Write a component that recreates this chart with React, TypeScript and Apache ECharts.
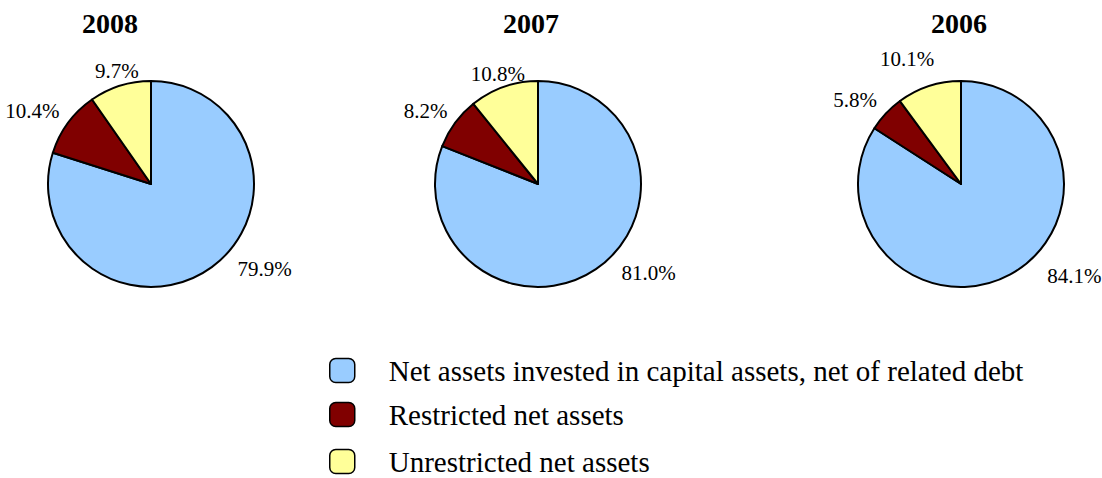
import React, { useEffect, useRef } from "react";
import * as echarts from "echarts";

const categories = [
  "Net assets invested in capital assets, net of related debt",
  "Restricted net assets",
  "Unrestricted net assets",
];
const years = ["2008", "2007", "2006"];
const values2008 = [79.9, 10.4, 9.7];
const values2007 = [81.0, 8.2, 10.8];
const values2006 = [84.1, 5.8, 10.1];
const colors = ["#99CCFF", "#800000", "#FFFF99"];

const FONT = "'Liberation Serif', 'Times New Roman', serif";

export default function App() {
  const ref = useRef<HTMLDivElement>(null);
  useEffect(() => {
    document.body.style.margin = "0";
    const chart = echarts.init(ref.current!, null, { renderer: "svg" });
    const allValues = [values2008, values2007, values2006];
    const centers = [[151, 184], [538, 184], [961, 184]];
    const titleX = [110, 531, 959];
    // label nudges (dx, dy) per pie and slice, relative to ECharts' outside placement
    const nudges = [
      [[16, -5], [3, -7], [26, -7]],
      [[16, -3], [4, -7], [29, -5]],
      [[28, -5], [2, -8], [13, -20]],
    ];
    const series = allValues.map((vals, i) => ({
      type: "pie",
      name: years[i],
      center: centers[i],
      radius: 103,
      startAngle: 90,
      clockwise: true,
      label: {
        show: true,
        position: "outside",
        overflow: "none",
        formatter: (p: any) => p.value.toFixed(1) + "%",
        fontFamily: FONT,
        fontSize: 21,
        color: "#000",
      },
      labelLine: { show: false, length: 8, length2: 0 },
      labelLayout: (p: any) => ({
        dx: nudges[i][p.dataIndex][0],
        dy: nudges[i][p.dataIndex][1],
      }),
      itemStyle: { borderColor: "#000", borderWidth: 2 },
      emphasis: { disabled: true },
      data: vals.map((v, j) => ({
        name: categories[j],
        value: v,
        itemStyle: { color: colors[j] },
      })),
    }));
    const legendTops = [356, 400, 447];
    chart.setOption({
      animation: false,
      color: colors,
      graphic: years.map((y, i) => ({
        type: "text",
        x: titleX[i],
        y: 23,
        style: {
          text: y,
          font: `bold 28px ${FONT}`,
          fill: "#000",
          textAlign: "center",
          textVerticalAlign: "middle",
        },
      })),
      legend: categories.map((c, i) => ({
        data: [{ name: c, itemStyle: { color: colors[i], borderColor: "#000", borderWidth: 1.5 } }],
        left: 329,
        top: legendTops[i],
        orient: "vertical",
        icon: "roundRect",
        itemWidth: 25,
        itemHeight: 24,
        selectedMode: false,
        padding: 0,
        textStyle: {
          fontFamily: FONT,
          fontSize: 29,
          color: "#000",
          padding: [0, 0, 0, 29],
        },
      })),
      series,
    });
    return () => chart.dispose();
  }, []);
  return <div ref={ref} style={{ width: 1102, height: 478 }} />;
}
